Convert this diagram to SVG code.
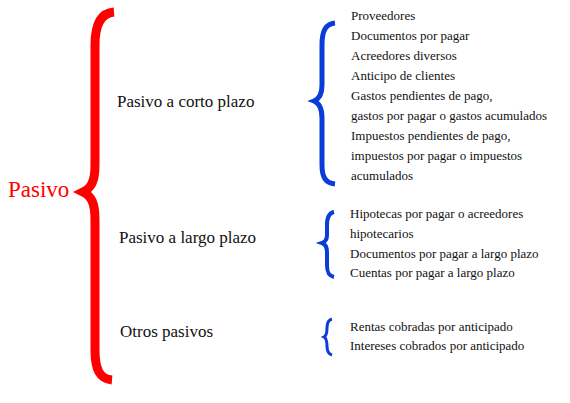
<svg xmlns="http://www.w3.org/2000/svg" width="570" height="403" viewBox="0 0 570 403">
  <style>
    .root { font-family: "Liberation Serif", "Times New Roman", serif; font-size: 23px; fill: #ff0000; }
    .cat { font-family: "Liberation Serif", "Times New Roman", serif; font-size: 17px; fill: #111111; }
    .item { font-family: "Liberation Serif", "Times New Roman", serif; font-size: 13px; fill: #111111; }
    .redbrace { fill: none; stroke: #ff0000; stroke-width: 9; stroke-linejoin: miter; stroke-linecap: butt; }
    .bluebrace { fill: none; stroke: #0a3cd8; stroke-linejoin: miter; stroke-linecap: butt; }
  </style>
  <rect width="570" height="403" fill="#ffffff"/>
  <g id="connectors">
    <path class="redbrace" d="M 114 12 C 101 13, 95 24, 95 45 L 95 165 C 95 182, 91 188, 83 192 C 91 196, 95 202, 95 220 L 95 350 C 95 370, 100 379, 112 380"/>
    <path class="bluebrace" stroke-width="5" d="M 335 23 C 326 24, 322 30, 322 45 L 322 85 C 322 95, 319 99, 314 101 C 319 103, 322 108, 322 118 L 322 165 C 322 178, 326 183, 335 184"/>
    <path class="bluebrace" stroke-width="4" d="M 334 212 C 329 213, 327 217, 327 225 L 327 235 C 327 240, 325 242, 322 243 C 325 244, 327 247, 327 252 L 327 265 C 327 273, 329 276, 334 277"/>
    <path class="bluebrace" stroke-width="3" d="M 332 319 C 328 320, 327 323, 327 328 C 327 333, 326 336, 324 337 C 326 338, 327 341, 327 346 C 327 351, 328 354, 332 355"/>
  </g>
  <g id="pasivo">
    <text class="root" x="8" y="197">Pasivo</text>
  </g>
  <g id="corto-plazo">
    <text class="cat" x="117" y="107">Pasivo a corto plazo</text>
  </g>
  <g id="largo-plazo">
    <text class="cat" x="119" y="243">Pasivo a largo plazo</text>
  </g>
  <g id="otros-pasivos">
    <text class="cat" x="120" y="337">Otros pasivos</text>
  </g>
  <g id="corto-plazo-items">
    <text class="item" x="351" y="20">Proveedores</text>
    <text class="item" x="351" y="40">Documentos por pagar</text>
    <text class="item" x="351" y="60">Acreedores diversos</text>
    <text class="item" x="351" y="80">Anticipo de clientes</text>
    <text class="item" x="351" y="100">Gastos pendientes de pago,</text>
    <text class="item" x="351" y="120">gastos por pagar o gastos acumulados</text>
    <text class="item" x="351" y="140">Impuestos pendientes de pago,</text>
    <text class="item" x="351" y="160">impuestos por pagar o impuestos</text>
    <text class="item" x="351" y="180">acumulados</text>
  </g>
  <g id="largo-plazo-items">
    <text class="item" x="350" y="218">Hipotecas por pagar o acreedores</text>
    <text class="item" x="350" y="238">hipotecarios</text>
    <text class="item" x="350" y="258">Documentos por pagar a largo plazo</text>
    <text class="item" x="350" y="277">Cuentas por pagar a largo plazo</text>
  </g>
  <g id="otros-pasivos-items">
    <text class="item" x="350" y="331">Rentas cobradas por anticipado</text>
    <text class="item" x="350" y="350">Intereses cobrados por anticipado</text>
  </g>
</svg>
